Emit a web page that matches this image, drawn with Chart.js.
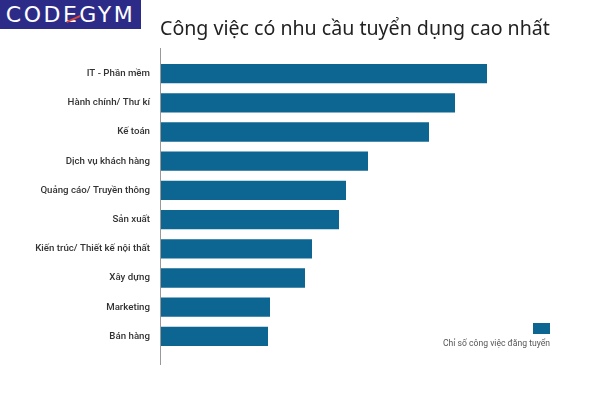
<!DOCTYPE html>
<html>
<head>
<meta charset="utf-8">
<script src="https://cdn.jsdelivr.net/npm/chart.js@4"></script>
<style>
  html, body { margin:0; padding:0; background:#fff; }
  #wrap { position:relative; width:600px; height:400px; }
  canvas { position:absolute; left:0; top:0; }
  #logo { position:absolute; left:0; top:0; width:141px; height:29px; background:#2c2c88;
          color:#fff; font-family:"DejaVu Sans"; font-size:22px; letter-spacing:2.5px; line-height:29px;
          text-align:center; overflow:hidden; }
  #slash { position:absolute; left:66px; top:18px; width:15px; height:2px; background:#d8453a; transform:rotate(-24deg); }
  #title { position:absolute; left:160px; top:14px; font-family:"Noto Sans"; font-size:19.6px; color:#222; white-space:nowrap; }
</style>
</head>
<body>
<div id="wrap">
  <canvas id="c" width="600" height="400"></canvas>
  <div id="logo">CODEGYM<div id="slash"></div></div>
  <div id="title">Công việc có nhu cầu tuyển dụng cao nhất</div>
</div>
<script>
const categories = ["IT - Phần mềm", "Hành chính/ Thư kí", "Kế toán", "Dịch vụ khách hàng", "Quảng cáo/ Truyền thông", "Sản xuất", "Kiến trúc/ Thiết kế nội thất", "Xây dựng", "Marketing", "Bán hàng"];
const jobIndex = [327, 295, 269, 208, 186, 179, 152, 145, 110, 108];
const seriesLabel = "Chỉ số công việc đăng tuyển";
const barColor = "#0c6691";

const extras = {
  id: 'extras',
  afterDraw(chart) {
    const ctx = chart.ctx, a = chart.chartArea;
    ctx.save();
    ctx.strokeStyle = '#999';
    ctx.lineWidth = 1;
    ctx.beginPath();
    ctx.moveTo(a.left + 0.5, a.top - 11);
    ctx.lineTo(a.left + 0.5, a.bottom + 14);
    ctx.stroke();
    // legend
    const ds = chart.data.datasets[0];
    ctx.fillStyle = ds.backgroundColor;
    ctx.fillRect(533, 323, 17, 11);
    ctx.fillStyle = '#555';
    ctx.font = '8.6px Roboto';
    ctx.textAlign = 'right';
    ctx.textBaseline = 'middle';
    ctx.fillText(ds.label, 550, 344);
    ctx.restore();
  }
};

new Chart(document.getElementById('c'), {
  type: 'bar',
  data: {
    labels: categories,
    datasets: [{ label: seriesLabel, data: jobIndex, backgroundColor: barColor,
                 categoryPercentage: 0.66, barPercentage: 1.0 }]
  },
  options: {
    indexAxis: 'y',
    responsive: false,
    animation: false,
    layout: { padding: { left: 0, right: 40, top: 59, bottom: 49 } },
    plugins: { legend: { display: false }, title: { display: false }, tooltip: { enabled: false } },
    scales: {
      x: { display: false, min: 0, max: 400 },
      y: {
        grid: { display: false, drawTicks: false },
        border: { display: false },
        ticks: { color: '#333', font: { family: 'Roboto', size: 9.7, weight: '500' }, padding: 10 },
        afterFit(scale) { scale.width = 160; }
      }
    }
  },
  plugins: [extras]
});
</script>
</body>
</html>
